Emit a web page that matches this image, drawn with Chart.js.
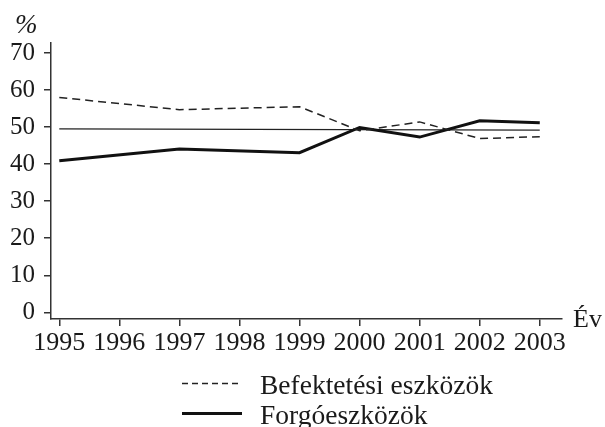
<!DOCTYPE html>
<html><head><meta charset="utf-8">
<script src="https://cdn.jsdelivr.net/npm/chart.js@4/dist/chart.umd.min.js"></script>
<style>html,body{margin:0;padding:0;background:#fff}#wrap{width:605px;height:427px;position:relative}</style>
</head><body><div id="wrap"><canvas id="c" width="605" height="427"></canvas></div>
<script>
// ---- data ----
const years = [1995, 1997, 1999, 2000, 2001, 2002, 2003];
const befektetesi = [58.0, 54.7, 55.5, 49.0, 51.4, 46.9, 47.4];
const forgo = [40.9, 44.1, 43.1, 49.9, 47.3, 51.7, 51.2];
const refYears = [1995, 2003];
const refLine = [49.5, 49.2];
const xTickValues = [1995, 1996, 1997, 1998, 1999, 2000, 2001, 2002, 2003];
const yTickValues = [0, 10, 20, 30, 40, 50, 60, 70];
const seriesNames = ['Befektetési eszközök', 'Forgóeszközök'];
const yAxisTitle = '%';
const xAxisTitle = 'Év';

const FONT = "'Liberation Serif', 'Times New Roman', serif";
const INK = '#1a1a1a';

function pts(xs, ys) { return xs.map((x, i) => ({x: x, y: ys[i]})); }

const textPlugin = {
  id: 'texts',
  afterDraw(chart) {
    const ctx = chart.ctx;
    const area = chart.chartArea;
    ctx.save();
    ctx.fillStyle = INK;
    ctx.textBaseline = 'alphabetic';
    ctx.textAlign = 'left';
    ctx.font = 'italic 27px ' + FONT;
    ctx.fillText(yAxisTitle, 15, 33);
    ctx.font = '26px ' + FONT;
    ctx.fillText(xAxisTitle, area.right + 11, 327);
    // legend
    const items = chart.data.datasets.filter(d => d.legend);
    items.forEach((d, i) => {
      const y = 383.5 + i * 30;
      ctx.beginPath();
      ctx.setLineDash(d.legendDash || []);
      ctx.lineWidth = d.borderWidth;
      ctx.strokeStyle = d.borderColor;
      ctx.moveTo(182, y);
      ctx.lineTo(242, y);
      ctx.stroke();
      ctx.setLineDash([]);
      ctx.font = '27.5px ' + FONT;
      ctx.fillText(d.label, 260, y + 10);
    });
    ctx.restore();
  }
};

new Chart(document.getElementById('c'), {
  type: 'line',
  data: {
    datasets: [
      {label: seriesNames[0], legend: true, data: pts(years, befektetesi), borderColor: '#222', borderWidth: 1.5,
       borderDash: [8, 5], legendDash: [6, 4], pointRadius: 0, tension: 0, fill: false},
      {label: seriesNames[1], legend: true, data: pts(years, forgo), borderColor: '#111', borderWidth: 3,
       pointRadius: 0, tension: 0, fill: false},
      {label: '', legend: false, data: pts(refYears, refLine), borderColor: '#222', borderWidth: 1.2,
       pointRadius: 0, tension: 0, fill: false}
    ]
  },
  options: {
    responsive: false,
    animation: false,
    devicePixelRatio: 1,
    layout: {padding: {left: 0, top: 43, right: 43, bottom: 0}},
    plugins: {legend: {display: false}, tooltip: {enabled: false}, title: {display: false}},
    scales: {
      x: {
        type: 'linear', min: 1994.862, max: 2003.37,
        afterBuildTicks(s) { s.ticks = xTickValues.map(v => ({value: v})); },
        afterFit(s) { s.height = 108; },
        ticks: {autoSkip: false, maxRotation: 0, padding: 2, color: INK,
          font: {family: FONT, size: 26}, callback: v => String(v)},
        grid: {display: true, drawOnChartArea: false, drawTicks: true, tickLength: 7, color: '#333', lineWidth: 1.5},
        border: {display: true, color: '#333', width: 1.5}
      },
      y: {
        type: 'linear', min: -1.81, max: 72.7,
        afterBuildTicks(s) { s.ticks = yTickValues.map(v => ({value: v})); },
        afterFit(s) { s.width = 51; },
        ticks: {padding: 9, color: INK, font: {family: FONT, size: 25}, callback: v => String(v)},
        grid: {display: true, drawOnChartArea: false, drawTicks: true, tickLength: 7, color: '#333', lineWidth: 1.5},
        border: {display: true, color: '#333', width: 1.5}
      }
    }
  },
  plugins: [textPlugin]
});
</script>
</body></html>
